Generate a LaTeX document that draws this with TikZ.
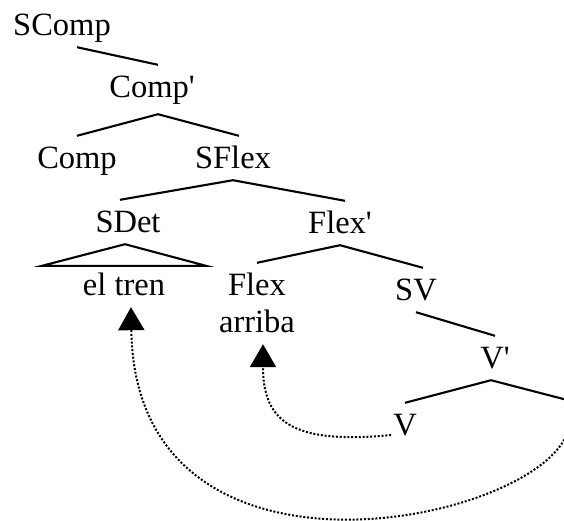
\documentclass[tikz,border=0pt]{standalone}
\usepackage{fontspec}
\setmainfont{Liberation Serif}
\usetikzlibrary{arrows.meta,positioning}

\begin{document}
\begin{tikzpicture}[
  x=1pt, y=-1pt,                            % pixel-like grid, y downwards
  font=\fontsize{32.5}{37}\selectfont,
  cat/.style    = {inner xsep=2pt,
                   inner ysep=9pt,
                   text height=23pt,
                   text depth=3pt,
                   anchor=base},
  branch/.style = {line width=2.1pt},
  move/.style   = {line width=2pt,
                   dash pattern=on 2pt off 1.8pt,
                   -{Triangle[width=26pt,length=23pt]}}
]
\useasboundingbox (0,0) rectangle (564,520);
\clip (0,0) rectangle (564,520);

\node[cat] (scomp)  at (62,35)   {SComp};
\node[cat] (compb)  at (152,97)  {Comp\textquotesingle};
\node[cat] (comp)   at (77,168)  {Comp};
\node[cat] (sflex)  at (233,168) {SFlex};
\node[cat] (sdet)   at (128,232) {SDet};
\node[cat] (flexb)  at (340,233) {Flex\textquotesingle};
\node[cat] (eltren) at (124,295) {el tren};
\node[cat] (flex)   at (257,295) {Flex};
\node[cat] (arriba) at (257,332) {arriba};
\node[cat] (sv)     at (416,300) {SV};
\node[cat] (vb)     at (495,368) {V\textquotesingle};
\node[cat] (v)      at (405,435) {V};
\coordinate (tv)  at (575,402);   % empty complement of V'
\coordinate (tvm) at (566,436);

\draw[branch] ([xshift=15pt]scomp.south) -- ([xshift=6pt]compb.north);
\draw[branch] (comp.north) -- ([xshift=6pt,yshift=-5pt]compb.south) -- ([xshift=6pt]sflex.north);
\draw[branch] ([xshift=-8pt]sdet.north) -- (sflex.south) -- ([xshift=5pt]flexb.north);
\draw[branch] ([xshift=-82pt,yshift=-3pt]eltren.north) -- ([xshift=-3pt]sdet.south)
              -- ([xshift=82pt,yshift=-3pt]eltren.north) -- cycle;
\draw[branch] (flex.north) -- (flexb.south) -- ([xshift=7pt]sv.north);
\draw[branch] (sv.south) -- (vb.north);
\draw[branch] (v.north) -- ([xshift=-4pt]vb.south) -- (tv);

\draw[move] (v.base west) .. controls (290,445) and (263,420) .. ([xshift=6pt]arriba.south);
\draw[move] (tvm) .. controls (527,525) and (135,605) .. ([xshift=7pt]eltren.south);

\end{tikzpicture}
\end{document}
